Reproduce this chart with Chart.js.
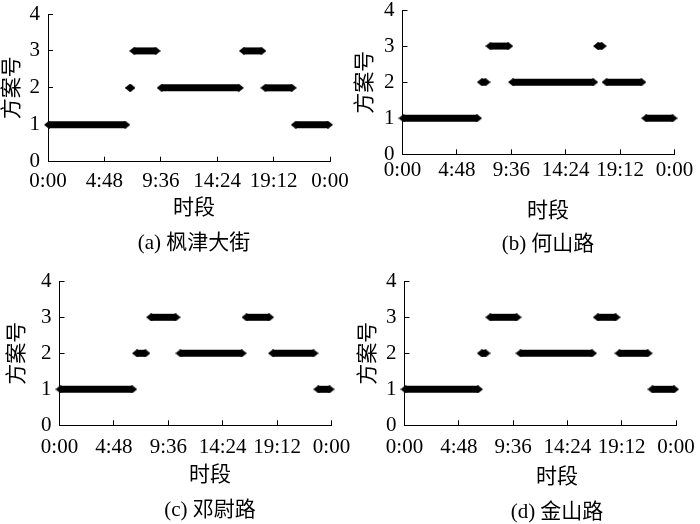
<!DOCTYPE html>
<html>
<head>
<meta charset="utf-8">
<script src="https://cdn.jsdelivr.net/npm/chart.js@4/dist/chart.umd.min.js"></script>
<style>
  html, body { margin: 0; padding: 0; background: #fff; }
  #wrap { position: relative; width: 700px; height: 524px; overflow: hidden; }
  #wrap canvas { position: absolute; }
</style>
</head>
<body>
<div id="wrap">
  <canvas id="chartA"></canvas>
  <canvas id="chartB"></canvas>
  <canvas id="chartC"></canvas>
  <canvas id="chartD"></canvas>
</div>
<script>
// time in minutes since 0:00, one entry per segment of constant plan
var timeLabels = ['0:00', '4:48', '9:36', '14:24', '19:12', '0:00'];
var planTicks = [0, 1, 2, 3, 4];

// (a) 枫津大街
var startA = [5, 420, 440, 580, 1000, 1110, 1265];
var endA   = [395, 420, 550, 975, 1090, 1245, 1430];
var planA  = [1, 2, 3, 2, 3, 2, 1];

// (b) 何山路
var startB = [5, 420, 465, 585, 1035, 1080, 1290];
var endB   = [395, 440, 560, 1010, 1055, 1265, 1430];
var planB  = [1, 2, 3, 2, 3, 2, 1];

// (c) 邓尉路
var startC = [5, 410, 485, 640, 990, 1130, 1370];
var endC   = [385, 455, 615, 965, 1110, 1345, 1430];
var planC  = [1, 2, 3, 2, 3, 2, 1];

// (d) 金山路
var startD = [5, 410, 455, 615, 1025, 1140, 1315];
var endD   = [390, 430, 595, 995, 1120, 1290, 1430];
var planD  = [1, 2, 3, 2, 3, 2, 1];

var FONT = "'Liberation Serif', 'Noto Sans CJK SC', serif";
Chart.defaults.font.family = FONT;
Chart.defaults.font.size = 21;
Chart.defaults.color = '#000';

// wide, flat diamond used as the marker at each segment end
function makeDiamond(w, h) {
  var c = document.createElement('canvas');
  c.width = w; c.height = h;
  var g = c.getContext('2d');
  g.fillStyle = '#000';
  g.beginPath();
  g.moveTo(0, h / 2); g.lineTo(w / 2, 0); g.lineTo(w, h / 2); g.lineTo(w / 2, h);
  g.closePath();
  g.fill();
  return c;
}
var diamond = makeDiamond(10, 8);

function makeDataSets(starts, ends, plans) {
  return plans.map(function (p, i) {
    return {
      data: [{x: starts[i], y: p}, {x: ends[i], y: p}],
      borderColor: '#000',
      backgroundColor: '#000',
      borderWidth: 7,
      borderCapStyle: 'butt',
      pointStyle: diamond,
      pointRadius: 5,
      clip: false
    };
  });
}

function noPad(s) {
  s.paddingLeft = 0; s.paddingRight = 0; s.paddingTop = 0; s.paddingBottom = 0;
}

function getChartConfig(datasets, caption, lay) {
  return {
    type: 'line',
    data: {datasets: datasets},
    options: {
      responsive: false,
      animation: false,
      devicePixelRatio: 1,
      layout: {autoPadding: false, padding: {left: 0, right: 0, top: lay.top, bottom: 0}},
      plugins: {
        legend: {display: false},
        tooltip: {enabled: false},
        subtitle: {
          display: true, text: '时段', position: 'bottom',
          font: {size: 21, weight: 'normal'}, color: '#000',
          padding: {top: 0, bottom: lay.bs}
        },
        title: {
          display: true, text: caption, position: 'bottom',
          font: {size: 21, weight: 'normal'}, color: '#000',
          padding: {top: 0, bottom: lay.bt}
        }
      },
      scales: {
        x: {
          type: 'linear', min: 0, max: 1440,
          border: {color: '#000', width: 1},
          grid: {drawOnChartArea: false, color: '#000', tickLength: -5},
          ticks: {
            stepSize: 288, autoSkip: false, maxRotation: 0, padding: lay.tickPad,
            callback: function (v, i) { return timeLabels[i]; }
          },
          afterFit: function (s) { s.height = lay.xh; noPad(s); }
        },
        y: {
          min: 0, max: 4,
          border: {color: '#000', width: 1},
          grid: {drawOnChartArea: false, color: '#000', tickLength: -5},
          ticks: {
            stepSize: 1, padding: 13,
            callback: function (v, i) { return planTicks[i]; }
          },
          title: {display: true, text: '方案号', padding: 0, font: {size: 21}},
          afterFit: function (s) { s.width = lay.yw; noPad(s); }
        },
        // empty right-hand box so the bottom captions sit where they do in the figure
        pad: {
          type: 'linear', position: 'right', display: true,
          grid: {display: false}, border: {display: false}, ticks: {display: false},
          afterFit: function (s) { s.width = lay.r; noPad(s); }
        }
      }
    }
  };
}

function place(id, box) {
  var el = document.getElementById(id);
  el.width = box[2]; el.height = box[3];
  el.style.left = box[0] + 'px'; el.style.top = box[1] + 'px';
  return el.getContext('2d');
}

var ctx = place('chartA', [0, 0, 388, 262]);
var chartA = new Chart(ctx, getChartConfig(makeDataSets(startA, endA, planA), '(a) 枫津大街',
  {top: 14, yw: 48, r: 58, xh: 33.7, tickPad: 12.2, bs: 9.8, bt: 6.4}));

var ctx = place('chartB', [353, 0, 390, 262]);
var chartB = new Chart(ctx, getChartConfig(makeDataSets(startB, endB, planB), '(b) 何山路',
  {top: 10, yw: 49.5, r: 68.5, xh: 44.1, tickPad: 8.6, bs: 7.8, bt: 5.4}));

var ctx = place('chartC', [5, 262, 410, 262]);
var chartC = new Chart(ctx, getChartConfig(makeDataSets(startC, endC, planC), '(c) 邓尉路',
  {top: 19.3, yw: 54.5, r: 83.5, xh: 37.1, tickPad: 14.6, bs: 9.8, bt: 1.4}));

var ctx = place('chartD', [356, 262, 402, 264]);
var chartD = new Chart(ctx, getChartConfig(makeDataSets(startD, endD, planD), '(d) 金山路',
  {top: 19.3, yw: 48.5, r: 82, xh: 39.1, tickPad: 14.6, bs: 9.8, bt: 1.4}));
</script>
</body>
</html>
